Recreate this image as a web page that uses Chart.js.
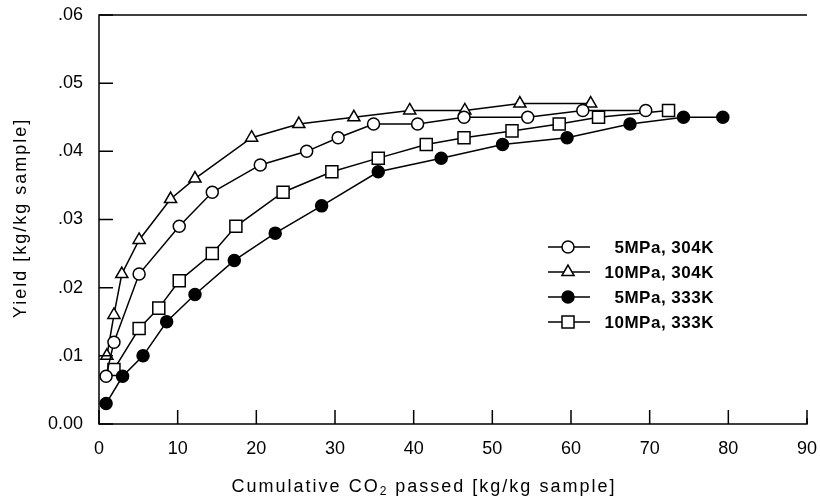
<!DOCTYPE html>
<html>
<head>
<meta charset="utf-8">
<script src="https://cdn.jsdelivr.net/npm/chart.js@4.4.1/dist/chart.umd.min.js"></script>
<style>
  body { margin: 0; background: #fff; }
  canvas { display: block; }
</style>
</head>
<body>
<canvas id="yieldChart" width="820" height="504"></canvas>
<script>
// Valeurs
const seriesLabels = ['5MPa, 304K', '10MPa, 304K', '5MPa, 333K', '10MPa, 333K'];

const x5MPa304K = [0.9, 1.9, 5.1, 10.2, 14.4, 20.5, 26.4, 30.4, 34.9, 40.5, 46.4, 54.5, 61.5, 69.5];
const y5MPa304K = [0.007, 0.012, 0.022, 0.029, 0.034, 0.038, 0.040, 0.042, 0.044, 0.044, 0.045, 0.045, 0.046, 0.046];

const x10MPa304K = [1.0, 1.9, 2.9, 5.1, 9.1, 12.2, 19.4, 25.4, 32.4, 39.5, 46.5, 53.5, 62.5];
const y10MPa304K = [0.010, 0.016, 0.022, 0.027, 0.033, 0.036, 0.042, 0.044, 0.045, 0.046, 0.046, 0.047, 0.047];

const x5MPa333K = [0.9, 3.0, 5.6, 8.6, 12.2, 17.2, 22.4, 28.3, 35.5, 43.5, 51.3, 59.5, 67.5, 74.3, 79.3];
const y5MPa333K = [0.003, 0.007, 0.010, 0.015, 0.019, 0.024, 0.028, 0.032, 0.037, 0.039, 0.041, 0.042, 0.044, 0.045, 0.045];

const x10MPa333K = [1.9, 5.1, 7.6, 10.2, 14.4, 17.4, 23.4, 29.6, 35.5, 41.6, 46.4, 52.5, 58.5, 63.5, 72.4];
const y10MPa333K = [0.008, 0.014, 0.017, 0.021, 0.025, 0.029, 0.034, 0.037, 0.039, 0.041, 0.042, 0.043, 0.044, 0.045, 0.046];

const xTickLabels = ['0', '10', '20', '30', '40', '50', '60', '70', '80', '90'];
const yTickLabels = ['0.00', '.01', '.02', '.03', '.04', '.05', '.06'];

const xTitleParts = ['Cumulative CO', '2', ' passed [kg/kg sample]'];
const yTitle = 'Yield [kg/kg sample]';

const FONT = '"Liberation Sans", Arial, sans-serif';

// assemble les points x/y
function toPoints(xs, ys) {
    return xs.map((x, i) => ({ x: x, y: ys[i] }));
}

// style de chaque série (marqueur)
const markerStyles = [
    { pointStyle: 'circle', radius: 6, fill: '#fff' },
    { pointStyle: 'triangle', radius: 7, fill: '#fff' },
    { pointStyle: 'circle', radius: 6, fill: '#000' },
    { pointStyle: 'rect', radius: 8.5, fill: '#fff' }
];

const seriesData = [
    toPoints(x5MPa304K, y5MPa304K),
    toPoints(x10MPa304K, y10MPa304K),
    toPoints(x5MPa333K, y5MPa333K),
    toPoints(x10MPa333K, y10MPa333K)
];

const datasets = seriesData.map((pts, i) => ({
    label: seriesLabels[i],
    data: pts,
    showLine: true,
    tension: 0,
    borderColor: '#000',
    borderWidth: 1.5,
    pointStyle: markerStyles[i].pointStyle,
    pointRadius: markerStyles[i].radius,
    pointBackgroundColor: markerStyles[i].fill,
    pointBorderColor: '#000',
    pointBorderWidth: 1.5,
    clip: false
}));

// dessine un marqueur à la main (légende)
function drawMarker(ctx, style, x, y) {
    ctx.beginPath();
    if (style.pointStyle === 'circle') {
        ctx.arc(x, y, style.radius, 0, Math.PI * 2);
    } else if (style.pointStyle === 'triangle') {
        const r = style.radius;
        ctx.moveTo(x, y - r);
        ctx.lineTo(x + r * 0.866, y + r * 0.5);
        ctx.lineTo(x - r * 0.866, y + r * 0.5);
        ctx.closePath();
    } else {
        const h = style.radius * Math.SQRT1_2;
        ctx.rect(x - h, y - h, h * 2, h * 2);
    }
    ctx.fillStyle = style.fill;
    ctx.fill();
    ctx.stroke();
}

// cadre, graduations intérieures, titres et légende
const decorPlugin = {
    id: 'decor',
    beforeDraw(chart) {
        const ctx = chart.ctx;
        ctx.save();
        ctx.fillStyle = '#fff';
        ctx.fillRect(0, 0, chart.width, chart.height);
        ctx.restore();
    },
    afterDraw(chart) {
        const ctx = chart.ctx;
        const a = chart.chartArea;
        const xs = chart.scales.x;
        const ys = chart.scales.y;
        ctx.save();
        ctx.strokeStyle = '#000';
        ctx.lineWidth = 1.5;

        // cadre (sans bord droit, comme sur la figure)
        ctx.beginPath();
        ctx.moveTo(a.right, a.top);
        ctx.lineTo(a.left, a.top);
        ctx.lineTo(a.left, a.bottom);
        ctx.lineTo(a.right, a.bottom);
        ctx.lineTo(a.right, a.bottom - 6);
        ctx.stroke();

        // graduations vers l'intérieur
        ctx.beginPath();
        xs.ticks.forEach(t => {
            const px = xs.getPixelForValue(t.value);
            ctx.moveTo(px, a.bottom);
            ctx.lineTo(px, a.bottom - 14);
        });
        ys.ticks.forEach(t => {
            const py = ys.getPixelForValue(t.value);
            ctx.moveTo(a.left, py);
            ctx.lineTo(a.left + 14, py);
        });
        ctx.stroke();

        // titre de l'axe X avec indice
        ctx.fillStyle = '#000';
        ctx.textBaseline = 'middle';
        ctx.textAlign = 'left';
        ctx.letterSpacing = '2px';
        const big = '18px ' + FONT;
        const small = '12px ' + FONT;
        ctx.font = big;
        const w0 = ctx.measureText(xTitleParts[0]).width;
        const w2 = ctx.measureText(xTitleParts[2]).width;
        ctx.font = small;
        const w1 = ctx.measureText(xTitleParts[1]).width;
        let tx = 424 - (w0 + w1 + w2) / 2;
        const ty = 487;
        ctx.font = big;
        ctx.fillText(xTitleParts[0], tx, ty);
        tx += w0;
        ctx.font = small;
        ctx.fillText(xTitleParts[1], tx, ty + 5);
        tx += w1;
        ctx.font = big;
        ctx.fillText(xTitleParts[2], tx, ty);

        // titre de l'axe Y
        ctx.save();
        ctx.translate(21, 218);
        ctx.rotate(-Math.PI / 2);
        ctx.textAlign = 'center';
        ctx.fillText(yTitle, 0, 0);
        ctx.restore();

        // légende
        ctx.font = 'bold 17px ' + FONT;
        ctx.letterSpacing = '0.5px';
        ctx.textAlign = 'right';
        chart.data.datasets.forEach((ds, i) => {
            const ly = 247 + i * 25;
            ctx.beginPath();
            ctx.moveTo(548, ly);
            ctx.lineTo(590, ly);
            ctx.stroke();
            drawMarker(ctx, markerStyles[i], 568, ly);
            ctx.fillStyle = '#000';
            ctx.fillText(ds.label, 714, ly + 1);
        });
        ctx.restore();
    }
};

const ctx = document.getElementById('yieldChart').getContext('2d');
new Chart(ctx, {
    type: 'scatter',
    data: { datasets: datasets },
    options: {
        responsive: false,
        animation: false,
        layout: { padding: { top: 15, right: 13, left: 0, bottom: 0 } },
        plugins: {
            legend: { display: false },
            tooltip: { enabled: false }
        },
        scales: {
            x: {
                type: 'linear',
                min: 0,
                max: 90,
                afterFit: s => {
                    s.height = 80;
                    s.paddingLeft = 0;
                    s.paddingRight = 0;
                },
                grid: { display: false, drawTicks: false },
                border: { display: false },
                ticks: {
                    stepSize: 10,
                    padding: 14,
                    color: '#000',
                    font: { family: FONT, size: 18 },
                    maxRotation: 0,
                    callback: (v, i) => xTickLabels[i]
                }
            },
            y: {
                type: 'linear',
                min: 0,
                max: 0.06,
                afterFit: s => {
                    s.width = 99;
                    s.paddingTop = 0;
                    s.paddingBottom = 0;
                },
                grid: { display: false, drawTicks: false },
                border: { display: false },
                ticks: {
                    stepSize: 0.01,
                    padding: 16,
                    color: '#000',
                    font: { family: FONT, size: 18 },
                    callback: (v, i) => yTickLabels[i]
                }
            }
        }
    },
    plugins: [decorPlugin]
});
</script>
</body>
</html>
